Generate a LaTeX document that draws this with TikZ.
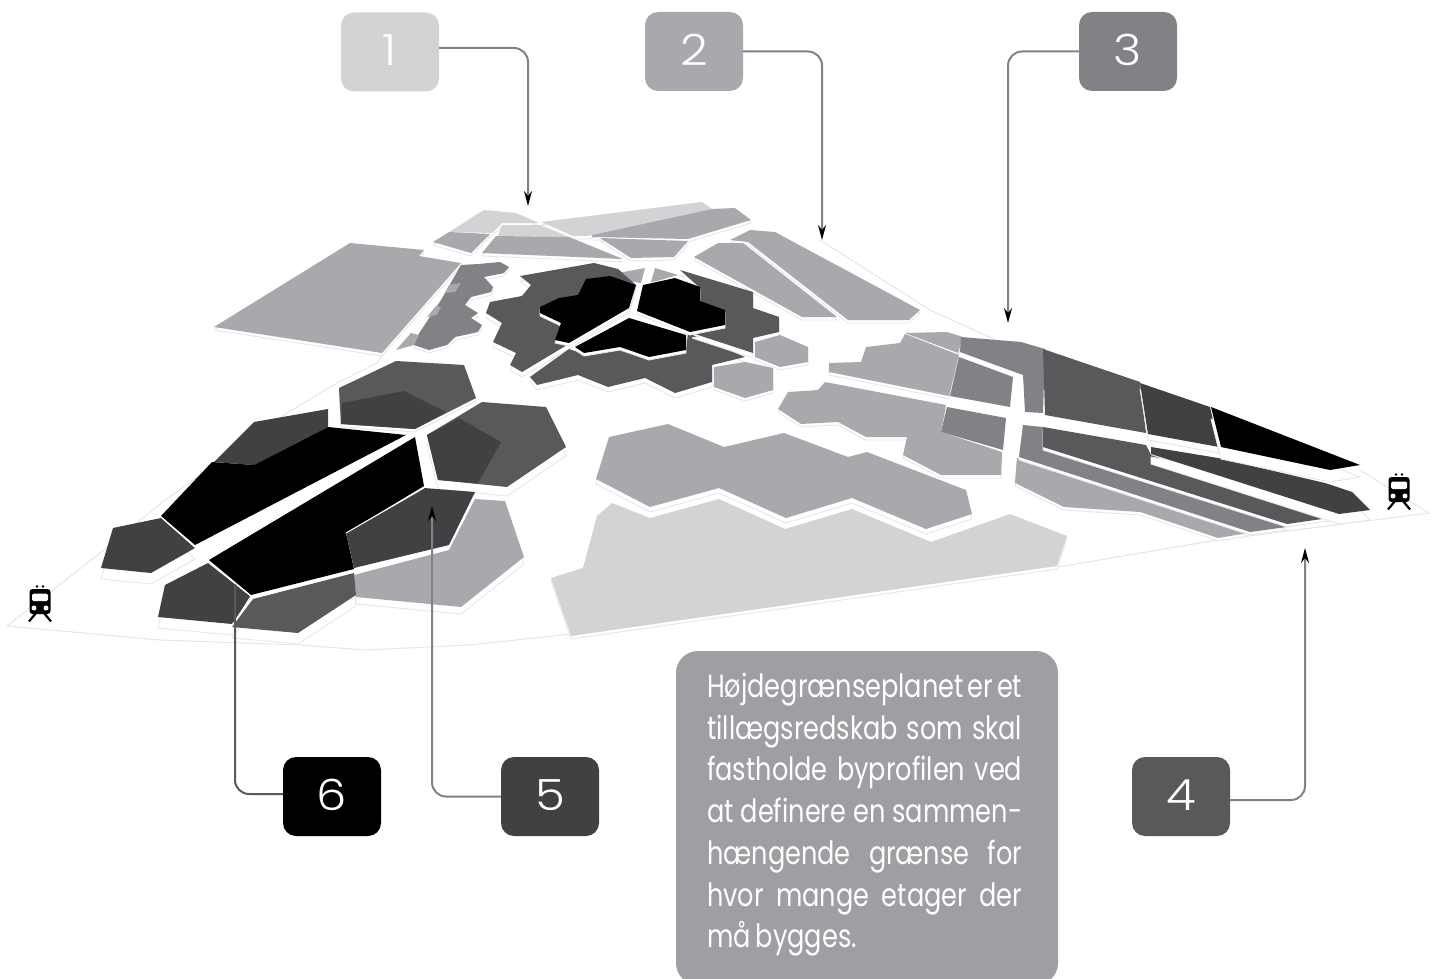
\documentclass[tikz,border=0pt]{standalone}
\usepackage{fontspec}
\usetikzlibrary{arrows.meta}
\newfontfamily\numf[UprightFont=* Light,FakeStretch=1.12]{Poppins}
\newfontfamily\bodyf[FakeStretch=0.8]{Poppins}
\definecolor{cA}{HTML}{D1D3D4}
\definecolor{cB}{HTML}{A7A9AC}
\definecolor{cC}{HTML}{808285}
\definecolor{cD}{HTML}{58595B}
\definecolor{cE}{HTML}{414042}
\definecolor{cBox}{HTML}{9D9FA2}
\definecolor{cG}{HTML}{E6E7E8}
\tikzset{
  extr/.style={fill=white,draw=cG,line width=0.9pt,line join=round},
  ground/.style={draw=cG,line width=1.1pt,line join=round},
  seam/.style={draw=white,line width=1pt},
  numbox/.style={minimum width=98pt,minimum height=79pt,rounded corners=13pt,text=white,inner sep=0pt,font=\numf\fontsize{43}{43}\selectfont},
  conn/.style={draw=cC,line width=2pt,rounded corners=14pt},
  arr/.style={conn,-{Stealth[length=15pt,width=8pt,color=black]}},
  train/.pic={
    \fill[black,rounded corners=3pt] (-10.5,-13) rectangle (10.5,12);
    \fill[white,rounded corners=1.5pt] (-8,-8.5) rectangle (8,-1);
    \fill[white] (-6,6) circle (2.5) (6,6) circle (2.5);
    \fill[black] (-3,-15.5) circle (1.3) (3,-15.5) circle (1.3);
    \draw[black,line width=2.2pt] (-4,11) -- (-11,19.5) (4,11) -- (11,19.5);
  }
}
\newcommand\blk[3][5]{\draw[extr,yshift=-#1pt] #3; \fill[#2] #3;}
\newcommand\numt[1]{\raisebox{3pt}{#1}}
\newcommand\jl[1]{\leavevmode\hbox to 315pt{#1}}
\begin{document}
\begin{tikzpicture}[x=1pt,y=-1pt]
\useasboundingbox (0,0) rectangle (1437,979);
% ground
\draw[ground] (394,340) -- (377,363) -- (337,383) -- (287,413) -- (215,465) -- (165,500) -- (100,553) -- (7,626) -- (160,640) -- (300,645) -- (365,650) -- (470,645) -- (571,634) -- (1058,567) -- (1217,540) -- (1429,513) -- (1360,470);
\draw[ground] (820,240) -- (930,310) -- (1000,342);
% top cluster
\blk[3]{cA}{(449,232) -- (484,210) -- (516,213) -- (539,223) -- (502,223) -- (492,233) -- cycle}
\blk[3]{cB}{(433,242) -- (449,232) -- (490,234) -- (471,253) -- cycle}
\blk[3]{cA}{(541,222) -- (702,202) -- (712,209) -- (588,236) -- (573,236) -- cycle}
\blk[3]{cB}{(592,235) -- (712,209) -- (735,208) -- (751,220) -- (688,239) -- (592,237) -- cycle}
\blk[3]{cA}{(502,225) -- (539,225) -- (569,237) -- (498,236) -- cycle}
\blk[3]{cB}{(482,253) -- (496,236) -- (569,237) -- (623,259) -- cycle}
\blk[3]{cB}{(600,238) -- (688,241) -- (674,257) -- (631,258) -- cycle}
\blk[3]{cB}{(730,240) -- (750,230) -- (775,232) -- (920,310) -- (909,320) -- (848,320) -- (748,242) -- cycle}
\blk[3]{cB}{(694,257) -- (718,243) -- (743,243) -- (837,317) -- (802,317) -- cycle}
% left parcel and strip
\blk[3]{cB}{(214,327) -- (350,243) -- (424,250) -- (419,256) -- (461,263) -- (382,353) -- cycle}
\blk[3]{cC}{(478,264) -- (500,262) -- (509,267) -- (504,273) -- (484,277) -- (493,287) -- (491,292) -- (471,297) -- (465,305) -- (478,313) -- (471,318) -- (482,325) -- (478,332) -- (455,337) -- (447,345) -- (429,350) -- (414,345) -- (418,335) -- (441,300) -- (461,265) -- cycle}
\fill[cB] (449,285) -- (461,283) -- (455,292) -- (445,293) -- cycle;
\fill[cB] (436,306) -- (441,307) -- (437,315) -- (427,317) -- cycle;
\fill[cB] (411,333) -- (419,335) -- (414,345) -- (396,350) -- cycle;
% centre star
\fill[cB] (618,273) -- (645,268) -- (641,283) -- (616,279) -- cycle;
\fill[cB] (655,268) -- (678,275) -- (657,281) -- (651,282) -- cycle;
\blk{cD}{(520,276) -- (594,263) -- (618,269) -- (636,285) -- (629,308) -- (567,345) -- (522,372) -- (510,365) -- (516,353) -- (493,342) -- (502,323) -- (486,313) -- (490,302) -- (522,296) -- (531,285) -- cycle}
\blk{cD}{(530,377) -- (569,349) -- (578,352) -- (620,347) -- (649,358) -- (686,350) -- (688,333) -- (745,357) -- (712,365) -- (712,382) -- (675,393) -- (645,378) -- (608,387) -- (578,375) -- (537,385) -- cycle}
\blk{cD}{(680,270) -- (753,292) -- (753,308) -- (779,317) -- (779,332) -- (753,338) -- (753,353) -- (692,333) -- (724,325) -- (724,310) -- (700,302) -- (700,288) -- cycle}
\blk[3]{black}{(540,307) -- (559,298) -- (578,295) -- (586,279) -- (610,276) -- (636,285) -- (629,308) -- (569,343) -- (555,340) -- (561,323) -- (540,313) -- cycle}
\blk[3]{black}{(643,285) -- (675,278) -- (700,287) -- (700,301) -- (725,310) -- (725,325) -- (690,332) -- (637,311) -- cycle}
\blk[3]{black}{(629,318) -- (686,335) -- (686,350) -- (649,357) -- (620,347) -- (584,353) -- (575,347) -- cycle}
\blk[3]{cB}{(755,342) -- (780,335) -- (808,347) -- (808,362) -- (780,367) -- (755,357) -- cycle}
\blk[3]{cB}{(714,367) -- (745,362) -- (773,368) -- (773,390) -- (745,398) -- (714,387) -- cycle}
% right cluster
\blk[3]{cB}{(905,333) -- (947,332) -- (963,337) -- (958,353) -- cycle}
\blk[3]{cB}{(829,363) -- (861,362) -- (866,347) -- (900,343) -- (905,334) -- (959,355) -- (949,396) -- (829,372) -- cycle}
\blk[3]{cB}{(825,382) -- (946,405) -- (941,432) -- (1002,452) -- (1001,475) -- (941,475) -- (903,455) -- (907,437) -- (866,437) -- (838,422) -- (801,424) -- (778,409) -- (788,392) -- (818,390) -- cycle}
\fill[cC] (961,337) -- (1021,342) -- (1045,349) -- (1043,413) -- (1025,412) -- (1023,375) -- (960,352) -- cycle;
\fill[cC] (959,357) -- (1013,377) -- (1010,407) -- (950,396) -- cycle;
\fill[cC] (947,407) -- (1006,418) -- (1003,450) -- (941,432) -- cycle;
\blk[3]{cB}{(1017,458) -- (1248,533) -- (1218,538) -- (1140,512) -- (1064,507) -- (1015,483) -- cycle}
\blk[3]{cC}{(1023,425) -- (1043,427) -- (1043,448) -- (1287,527) -- (1250,532) -- (1019,457) -- cycle}
\blk[3]{cD}{(1043,427) -- (1146,445) -- (1151,455) -- (1336,517) -- (1287,524) -- (1043,447) -- cycle}
\blk[10]{cE}{(1151,447) -- (1218,458) -- (1325,483) -- (1352,492) -- (1370,510) -- (1339,514) -- (1151,454) -- cycle}
\fill[cD] (1043,349) -- (1140,382) -- (1146,433) -- (1045,415) -- cycle;
\blk[6]{cE}{(1140,383) -- (1210,407) -- (1219,447) -- (1148,434) -- cycle}
\blk[12]{black}{(1211,407) -- (1360,465) -- (1330,470) -- (1221,447) -- cycle}
% centre parcels
\blk[3]{cA}{(612,503) -- (650,518) -- (719,499) -- (785,529) -- (852,509) -- (931,542) -- (1010,514) -- (1067,536) -- (1057,566) -- (571,636) -- (551,578) -- (583,568) -- (597,516) -- cycle}
\blk{cB}{(609,437) -- (668,424) -- (724,447) -- (784,433) -- (848,457) -- (867,452) -- (966,490) -- (972,514) -- (926,529) -- (852,498) -- (786,518) -- (719,488) -- (650,507) -- (596,479) -- cycle}
% left cluster
\blk[7]{cB}{(475,499) -- (505,501) -- (524,557) -- (461,607) -- (356,597) -- (354,575) -- (449,550) -- cycle}
\blk[3]{cD}{(339,388) -- (396,361) -- (464,365) -- (476,398) -- (415,429) -- (341,424) -- cycle}
\fill[cE] (342,403) -- (404,391) -- (446,412) -- (415,429) -- (341,424) -- cycle;
\blk[9]{cD}{(427,435) -- (482,402) -- (546,407) -- (566,447) -- (507,487) -- (438,480) -- cycle}
\fill[cE] (427,435) -- (459,418) -- (501,442) -- (478,483) -- (438,480) -- cycle;
\fill[cE] (214,462) -- (254,422) -- (328,409) -- (328,427) -- (254,465) -- cycle;
\blk[11]{cE}{(113,528) -- (161,518) -- (195,548) -- (151,573) -- (101,568) -- cycle}
\fill[black] (161,516) -- (212,462) -- (254,465) -- (328,427) -- (406,435) -- (195,545) -- cycle;
\blk[11]{cE}{(165,585) -- (208,563) -- (251,597) -- (232,624) -- (158,617) -- cycle}
\blk[11]{cD}{(253,599) -- (354,573) -- (356,595) -- (298,633) -- (232,627) -- cycle}
\fill[black] (209,560) -- (415,437) -- (424,486) -- (346,533) -- (354,569) -- (251,595) -- cycle;
\fill[cE] (424,488) -- (475,492) -- (449,545) -- (354,568) -- (346,533) -- cycle;
\draw[seam] (346,533) -- (424,488);
\draw[seam] (161,517) -- (195,547);
\draw[seam] (208,561) -- (251,596) -- (232,626);
% trains
\pic at (40,602) {train};
\pic at (1399,490) {train};
% number boxes
\node[numbox,fill=cA] (b1) at (390,52) {\numt{1}};
\node[numbox,fill=cB] (b2) at (694,51.5) {\numt{2}};
\node[numbox,fill=cC] (b3) at (1128,51.5) {\numt{3}};
\node[numbox,fill=cD] (b4) at (1181,796.5) {\numt{4}};
\node[numbox,fill=cE] (b5) at (550,796.5) {\numt{5}};
\node[numbox,fill=black] (b6) at (332,796.5) {\numt{6}};
% connector ends
\coordinate (t1) at (528,206);
\coordinate (t2) at (822,240);
\coordinate (t3) at (1008,323);
\coordinate (t4) at (1305,548);
\coordinate (t5) at (432,506);
\coordinate (t6) at (235,584);
\draw[arr] ([yshift=4pt]b1.east) -| (t1);
\draw[arr] (b2.east) -| (t2);
\draw[arr] (b3.west) -| (t3);
\draw[arr] ([yshift=-3.5pt]b4.east) -| (t4);
\draw[arr] (b5.west) -| (t5);
\draw[conn,draw=cD] ([yshift=2.5pt]b6.west) -| (t6);
% text box
\path[fill=cBox,rounded corners=22pt] (676,985) -- (676,651) -- (1058,651) -- (1058,985) -- cycle;
\node[anchor=north west,inner sep=0pt,text=white,text width=315pt,align=left,font=\bodyf\fontsize{32}{41.7}\selectfont] (txt) at (707,673) {%
\jl{Højdegrænseplanet\hfill er\hfill et}\\
\jl{tillægsredskab\hfill som\hfill skal}\\
\jl{fastholde\hfill byprofilen\hfill ved}\\
\jl{at\hfill definere\hfill en\hfill sammen-}\\
\jl{hængende\hfill grænse\hfill for}\\
\jl{hvor\hfill mange\hfill etager\hfill der}\\
må\hspace{5pt}bygges.};
\end{tikzpicture}
\end{document}
